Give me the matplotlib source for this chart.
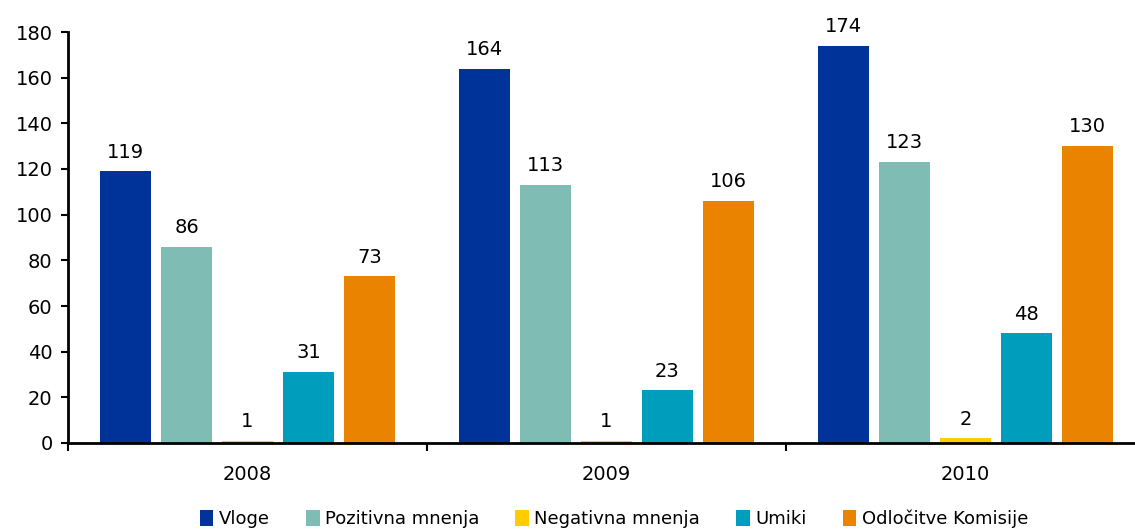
import matplotlib
matplotlib.use("Agg")
import matplotlib.pyplot as plt
import numpy as np

years = ["2008", "2009", "2010"]
series_names = ["Vloge", "Pozitivna mnenja", "Negativna mnenja", "Umiki", "Odločitve Komisije"]
vloge = [119, 164, 174]
pozitivna = [86, 113, 123]
negativna = [1, 1, 2]
umiki = [31, 23, 48]
odlocitve = [73, 106, 130]
series_values = [vloge, pozitivna, negativna, umiki, odlocitve]
colors = ["#00339A", "#7FBCB3", "#FFCC00", "#009EBD", "#E98300"]

plt.rcParams["font.family"] = ["DejaVu Sans"]

fig = plt.figure(figsize=(11.35, 5.31), dpi=100)
ax = fig.add_axes([68 / 1135, 1 - 443 / 531, (1145 - 68) / 1135, (443 - 32) / 531])

x = np.arange(len(years))
step = 61 / 359
width = 51 / 359
for i, (name, vals, col) in enumerate(zip(series_names, series_values, colors)):
    pos = x + (i - 2) * step
    ax.bar(pos, vals, width=width, color=col, label=name, zorder=2)
    for xp, v in zip(pos, vals):
        ax.annotate(str(v), (xp, v), xytext=(0, 7), textcoords="offset points",
                    ha="center", va="bottom", fontsize=14, color="#000000")

ax.set_xlim(-0.5, 2.5)
ax.set_ylim(0, 180)
ax.set_yticks(np.arange(0, 181, 20))
ax.tick_params(axis="y", labelsize=14, length=5, width=1.5, direction="out", pad=6)

ax.set_xticks(x)
ax.set_xticklabels(years)
ax.tick_params(axis="x", which="major", length=0, labelsize=14, pad=16)
ax.set_xticks([-0.5, 0.5, 1.5, 2.5], minor=True)
ax.tick_params(axis="x", which="minor", length=6, width=1.5, direction="out")

for side in ["top", "right"]:
    ax.spines[side].set_visible(False)
for side in ["left", "bottom"]:
    ax.spines[side].set_linewidth(2)

fig.legend(loc="center", bbox_to_anchor=(614 / 1135, 1 - 519 / 531), ncol=5,
           frameon=False, fontsize=13, handlelength=0.75, handleheight=1.0,
           handletextpad=0.3, columnspacing=2.0, borderaxespad=0)

fig.savefig("out.png", dpi=100)
